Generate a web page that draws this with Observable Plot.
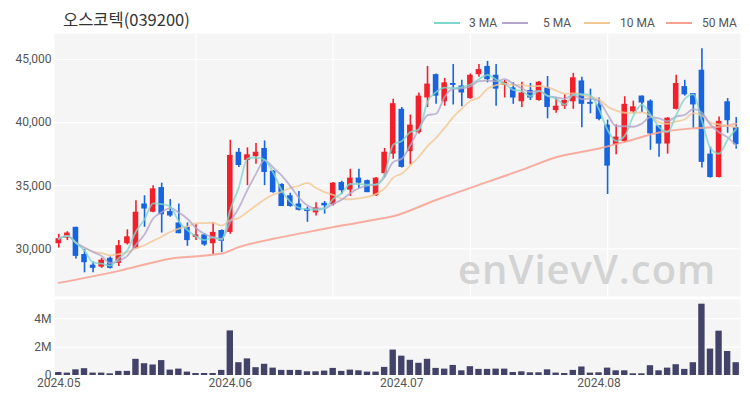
<!DOCTYPE html>
<html>
<head>
<meta charset="utf-8">
<script src="https://cdn.jsdelivr.net/npm/d3@7"></script>
<script src="https://cdn.jsdelivr.net/npm/@observablehq/plot@0.6"></script>
<style>
  body { margin: 0; background: #fff; }
  #wrap { position: relative; width: 750px; height: 400px; overflow: hidden; font-family: Roboto, "Noto Sans CJK KR", sans-serif; }
  #title { position: absolute; left: 63px; top: 7px; font-size: 16.5px; color: #333; font-family: "Noto Sans CJK KR", sans-serif; }
  #legend { position: absolute; top: 15px; left: 0; width: 750px; height: 16px; font-size: 12px; color: #555; }
  #legend .sw { position: absolute; top: 7px; width: 26px; height: 2px; }
  #legend .tx { position: absolute; top: 0; line-height: 16px; }
  #watermark { position: absolute; left: 458px; top: 241px; font-size: 40px; font-weight: 600; color: #d3d3d3; font-family: "Open Sans", sans-serif; letter-spacing: 1px; pointer-events: none; }
  #candle { position: absolute; left: 0; top: 0; }
  #volume { position: absolute; left: 0; top: 290px; }
</style>
</head>
<body>
<div id="wrap">
  <div id="candle"></div>
  <div id="volume"></div>
  <div id="watermark">enVievV.com</div>
  <div id="title">오스코텍(039200)</div>
  <div id="legend"></div>
</div>
<script>
// ---- data ----
const opens  = [30400,30850,31700,29550,28700,28550,29250,28850,30400,30000,33550,32900,34850,32950,32050,31700,30900,31100,30400,31450,
                31300,37650,37000,37300,37950,36150,35100,34200,33550,33150,32850,33600,33500,35250,34650,35600,35400,34200,35950,37500,
                41050,37700,39200,41950,43800,41650,43100,42900,41900,43800,44450,43750,42950,42750,41650,42550,41750,42750,40950,41300,
                41650,43300,41600,41400,39800,38250,38500,40850,42100,41700,39750,38300,41050,42850,42300,44150,37500,35650,41650,39600];
const highs  = [31150,31350,31700,29950,28950,29250,29350,30650,31500,33800,34200,35000,35200,33900,33550,32050,31900,31200,32050,31500,
                38600,37950,38000,38350,38550,36200,35150,34400,34550,33300,33650,33750,35250,35350,36300,36300,35450,35650,37950,41850,
                41200,40600,42350,44450,43850,43500,44600,43350,43850,44600,44850,44600,43350,43150,43200,43100,43250,43650,41950,42200,
                43900,43600,42650,41950,40200,39800,42050,41700,42100,41800,39750,40400,43750,43350,42300,45850,38050,40450,41900,40400];
const lows   = [30050,30650,29200,28100,28100,28450,28400,28600,30300,30000,31700,32850,31250,32500,31200,30200,30650,30200,29550,29700,
                31150,36450,35000,36700,35000,34400,33350,33300,33000,32100,32600,32750,33400,34300,34150,34750,34450,34150,35650,37100,
                36400,36650,39100,41200,41450,41300,41400,41250,41850,43600,43150,41300,41950,41450,41200,41750,41700,40300,40750,41050,
                41050,39600,40700,40150,34300,37450,38400,40700,40800,37800,37250,37500,41000,42100,39550,36400,35600,35600,39150,37900];
const closes = [30800,31250,29400,28900,28450,29100,28450,30250,30950,32900,33150,34750,32700,32600,31200,30650,31100,30300,31300,30600,
                37400,36600,37450,37650,36050,34450,33350,33350,33050,32950,33250,33400,35200,34600,35600,35200,34450,35600,37650,41500,
                36450,39800,42100,43050,42100,43150,42950,42350,43750,44200,43400,42650,43200,41950,42350,41950,43200,41200,41300,41750,
                43550,41450,41450,40250,36550,38850,41450,41250,41550,39100,38300,40350,43100,42200,41400,36850,35650,40100,40150,38250];
// volume, millions of shares
const volumes = [0.21,0.17,0.40,0.48,0.17,0.17,0.12,0.29,0.29,1.14,0.83,0.74,1.05,0.38,0.45,0.24,0.14,0.14,0.14,0.36,
                 3.14,0.90,1.17,0.55,0.79,0.52,0.36,0.36,0.36,0.26,0.26,0.31,0.50,0.29,0.38,0.33,0.24,0.24,0.57,1.79,
                 1.36,1.07,0.86,1.14,0.50,0.45,0.71,0.33,0.62,0.43,0.43,0.45,0.45,0.21,0.26,0.19,0.19,0.40,0.17,0.14,
                 0.36,0.60,0.17,0.19,0.52,0.33,0.33,0.12,0.12,0.69,0.33,0.52,0.76,0.43,0.90,5.02,1.86,3.12,1.69,0.90];
// 50-day moving average (bar index -> value)
const ma50Idx = [0,7,13,19,21,25,29,33,37,39,44,50,54,58,63,66,70,74,77,79];
const ma50Val = [27300,28250,29220,29620,30130,30790,31320,31840,32320,32580,33870,35300,36250,37250,37950,38470,39210,39550,39680,39900];
// axis
const tickIdx = [0,20,40,63];
const tickLabels = ["2024.05","2024.06","2024.07","2024.08"];
const gridIdx = [16,32,48,64];
const priceTicks = [30000,35000,40000,45000];
const volTicks = [0,2,4];
const volTickLabels = ["0","2M","4M"];
const maNames = ["3 MA","5 MA","10 MA","50 MA"];
const maColors = ["#7fd6cc","#b4a5cc","#f3c792","#f7a090"];

// ---- build ----
const n = closes.length;
const idx = d3.range(n);
const bars = idx.map(i => ({i, open: opens[i], high: highs[i], low: lows[i], close: closes[i], vol: volumes[i],
                            up: closes[i] >= opens[i]}));
const UP = "#f2202a", DOWN = "#1763e0";
function ma(k) {
  return idx.map(i => ({i, v: d3.mean(closes.slice(Math.max(0, i - k + 1), i + 1))}));
}
const ma3 = ma(3), ma5 = ma(5), ma10 = ma(10);
const ma50 = ma50Idx.map((i, j) => ({i, v: ma50Val[j]}));

const xScale = {type: "band", domain: idx, padding: 0, label: null};
const font = {fontFamily: "Roboto, 'Noto Sans CJK KR', sans-serif", fontSize: "12px", color: "#555", background: "transparent", overflow: "visible"};

const candle = Plot.plot({
  width: 750, height: 300,
  marginLeft: 54, marginRight: 10, marginTop: 33, marginBottom: 4,
  style: font,
  x: {...xScale, axis: null},
  y: {domain: [26220, 47060], axis: null, label: null},
  marks: [
    Plot.frame({fill: "#f5f5f5", stroke: null}),
    Plot.gridY(priceTicks, {stroke: "#fff", strokeOpacity: 1, strokeWidth: 1.2}),
    Plot.ruleX(gridIdx, {stroke: "#fff", strokeOpacity: 1, strokeWidth: 1.2}),
    Plot.axisY(priceTicks, {tickSize: 0, tickPadding: 3, tickFormat: d3.format(","), fill: "#555", label: null}),
    Plot.ruleX(bars, {x: "i", y1: "low", y2: "high", stroke: d => d.up ? UP : DOWN, strokeWidth: 1.6}),
    Plot.barY(bars, {x: "i", y1: "open", y2: "close", fill: d => d.up ? UP : DOWN, insetLeft: 1.5, insetRight: 1.5}),
    Plot.lineY(ma50, {x: "i", y: "v", stroke: maColors[3], strokeWidth: 2, strokeOpacity: 0.85, curve: "monotone-x"}),
    Plot.lineY(ma10, {x: "i", y: "v", stroke: maColors[2], strokeWidth: 1.8, strokeOpacity: 0.8, curve: "monotone-x"}),
    Plot.lineY(ma5, {x: "i", y: "v", stroke: maColors[1], strokeWidth: 1.8, strokeOpacity: 0.8, curve: "monotone-x"}),
    Plot.lineY(ma3, {x: "i", y: "v", stroke: maColors[0], strokeWidth: 1.8, strokeOpacity: 0.8, curve: "monotone-x"})
  ]
});
document.getElementById("candle").appendChild(candle);

const volume = Plot.plot({
  width: 750, height: 110,
  marginLeft: 54, marginRight: 10, marginTop: 9, marginBottom: 25,
  style: font,
  x: {...xScale, axis: null},
  y: {domain: [0, 5.35], axis: null, label: null},
  marks: [
    Plot.frame({fill: "#f5f5f5", stroke: null}),
    Plot.gridY(volTicks, {stroke: "#fff", strokeOpacity: 1, strokeWidth: 1.2}),
    Plot.axisY(volTicks, {tickSize: 0, tickPadding: 3, tickFormat: (d) => volTickLabels[volTicks.indexOf(d)], fill: "#555", label: null}),
    Plot.axisX(tickIdx, {tickSize: 0, tickPadding: 3, tickFormat: (d) => tickLabels[tickIdx.indexOf(d)], fill: "#555", label: null}),
    Plot.barY(bars, {x: "i", y: "vol", fill: "#434369", insetLeft: 1.1, insetRight: 1.1})
  ]
});
document.getElementById("volume").appendChild(volume);

// legend (HTML, outside the SVG)
const swX = [434, 502, 584, 666];
const txX = [469, 543, 620, 702];
const lg = document.getElementById("legend");
maNames.forEach((name, k) => {
  const sw = document.createElement("span");
  sw.className = "sw"; sw.style.left = swX[k] + "px"; sw.style.background = maColors[k];
  const tx = document.createElement("span");
  tx.className = "tx"; tx.style.left = txX[k] + "px"; tx.textContent = name;
  lg.appendChild(sw); lg.appendChild(tx);
});
</script>
</body>
</html>
